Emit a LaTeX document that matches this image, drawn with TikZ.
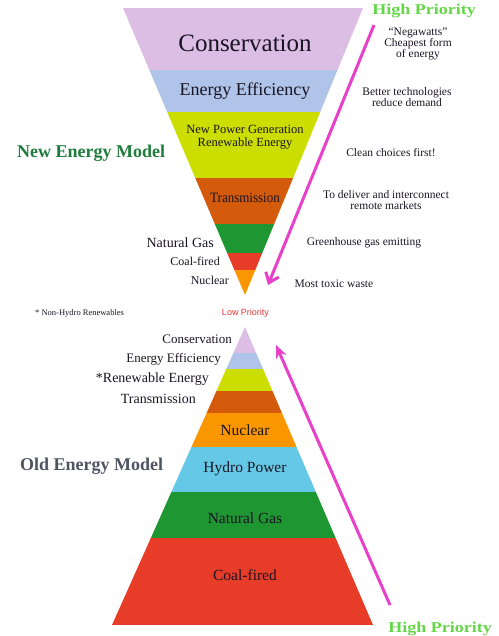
\documentclass[tikz,border=0pt]{standalone}
\usepackage{fontspec}
\setmainfont{Liberation Serif}
\newfontfamily\arialf{Liberation Sans}
\usetikzlibrary{arrows.meta}
\definecolor{cons}{RGB}{220,190,228}
\definecolor{eff}{RGB}{175,196,232}
\definecolor{renw}{RGB}{204,221,0}
\definecolor{trans}{RGB}{212,90,12}
\definecolor{gas}{RGB}{30,150,50}
\definecolor{coal}{RGB}{230,60,40}
\definecolor{nuc}{RGB}{250,150,0}
\definecolor{hydro}{RGB}{100,200,230}
\definecolor{arrowc}{RGB}{232,64,200}
\definecolor{newgreen}{RGB}{30,125,60}
\definecolor{oldgrey}{RGB}{78,84,98}
\definecolor{highg}{RGB}{100,215,70}
\definecolor{lowred}{RGB}{232,56,60}
\definecolor{txt}{RGB}{25,20,35}
\begin{document}
\begin{tikzpicture}[x=1pt,y=-1pt,
  lbl/.style={inner sep=0pt, text=txt, font=\fontsize{#1}{#1}\selectfont},
  note/.style={inner sep=0pt, text=txt, align=center, font=\fontsize{11.5}{11}\selectfont},
  model/.style={inner sep=0pt, anchor=west, font=\bfseries\fontsize{18}{18}\selectfont},
  high/.style={inner sep=0pt, text=highg, xscale=1.2, font=\bfseries\fontsize{15}{15}\selectfont},
  prio/.style={arrowc, line width=3pt}]
\useasboundingbox (0,0) rectangle (498,636);

% New energy model (inverted triangle)
\begin{scope}
\clip (123,8) -- (363,8) -- (245,295) -- cycle;
\fill[cons]  (100,8)   rectangle (400,70);
\fill[eff]   (100,70)  rectangle (400,112);
\fill[renw]  (100,112) rectangle (400,178);
\fill[trans] (100,178) rectangle (400,224);
\fill[gas]   (100,224) rectangle (400,253);
\fill[coal]  (100,253) rectangle (400,270);
\fill[nuc]   (100,270) rectangle (400,296);
\end{scope}

% Old energy model (pyramid)
\begin{scope}
\clip (245,327) -- (373,625) -- (112,625) -- cycle;
\fill[cons]  (100,326) rectangle (400,353);
\fill[eff]   (100,353) rectangle (400,369);
\fill[renw]  (100,369) rectangle (400,391);
\fill[trans] (100,391) rectangle (400,413);
\fill[nuc]   (100,413) rectangle (400,447);
\fill[hydro] (100,447) rectangle (400,492);
\fill[gas]   (100,492) rectangle (400,538);
\fill[coal]  (100,538) rectangle (400,625);
\end{scope}

% top labels
\node[lbl=25] (n1) at (245,43) {Conservation};
\node[lbl=18] (n2) at (245,91) {Energy Efficiency};
\node[lbl=12.5, align=center, font=\fontsize{12.5}{13}\selectfont] (n3) at (245,137) {New Power Generation\\Renewable Energy};
\node[lbl=13, yscale=1.1] (n4) at (245,198) {Transmission};
\node[lbl=14, anchor=east] (n5) at (214,243) {Natural Gas};
\node[lbl=12, anchor=east] (n6) at (220,261) {Coal-fired};
\node[lbl=12, anchor=east] (n7) at (229,280) {Nuclear};

% right notes
\node[note] (c1) at (418,44) {“Negawatts”\\Cheapest form\\of energy};
\node[note] (c2) at (407,97) {Better technologies\\reduce demand};
\node[note] (c3) at (391,153) {Clean choices first!};
\node[note] (c4) at (386,200) {To deliver and interconnect\\remote markets};
\node[note] (c5) at (364,243) {Greenhouse gas emitting};
\node[note] (c6) at (334,284) {Most toxic waste};

% model titles
\node[model, text=newgreen] (m1) at (17,153) {New Energy Model};
\node[model, text=oldgrey] (m2) at (20,466) {Old Energy Model};
\node[lbl=8.5, anchor=west] (fn) at (35,313) {* Non-Hydro Renewables};
\node[inner sep=0pt, text=lowred, font=\arialf\fontsize{9}{9}\selectfont] (low) at (245.5,313) {Low Priority};
\node[high] (h1) at (424,11) {High Priority};
\node[high] (h2) at (440,629) {High Priority};

% bottom labels
\node[lbl=13, anchor=east] (b1) at (232,339) {Conservation};
\node[lbl=13, anchor=east] (b2) at (221,359) {Energy Efficiency};
\node[lbl=14, anchor=east] (b3) at (209,379) {*Renewable Energy};
\node[lbl=14, anchor=east] (b4) at (196,399) {Transmission};
\node[lbl=15.5] (b5) at (245,430) {Nuclear};
\node[lbl=15.5] (b6) at (245,469) {Hydro Power};
\node[lbl=15.5] (b7) at (245,518) {Natural Gas};
\node[lbl=15.5] (b8) at (245,575) {Coal-fired};

% priority arrows
\coordinate (a1s) at (374,25);
\coordinate (a1e) at (268,285);
\draw[prio, -{Straight Barb[length=9pt,width=14pt]}] (a1s) -- (a1e);
\coordinate (a2s) at (390,605);
\coordinate (a2e) at (276,345);
\draw[prio, -{Stealth[length=13pt,width=11pt]}] (a2s) -- (a2e);
\end{tikzpicture}
\end{document}
